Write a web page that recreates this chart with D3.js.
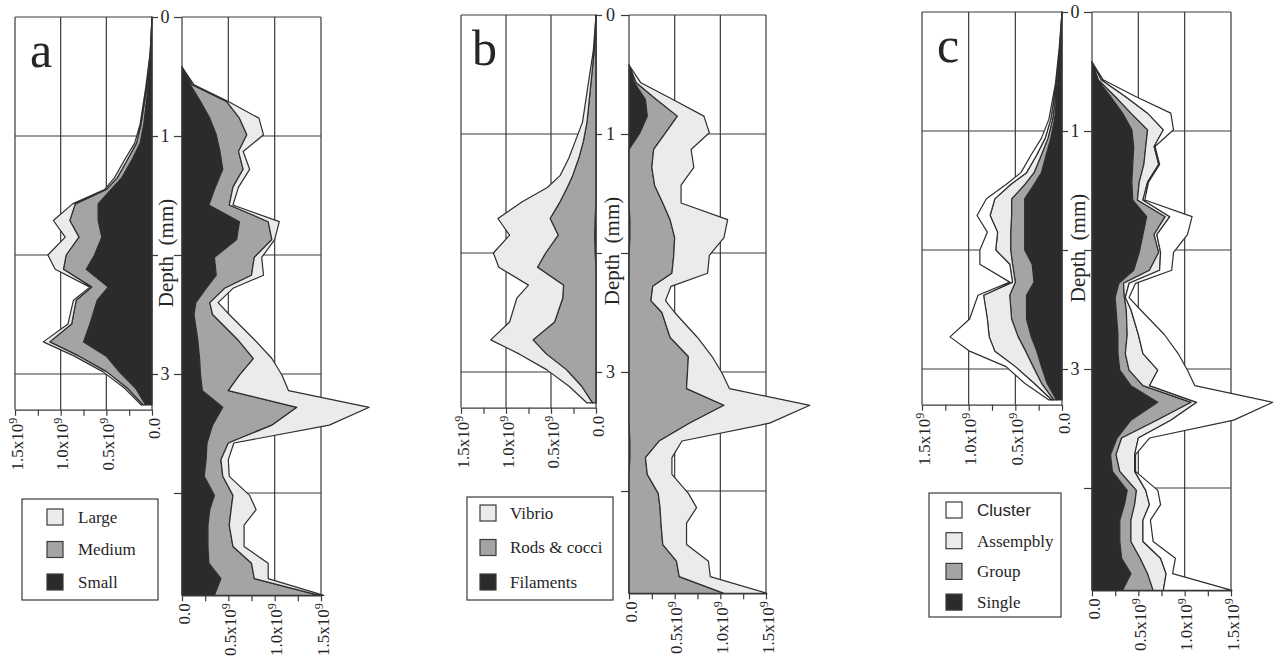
<!DOCTYPE html>
<html>
<head>
<meta charset="utf-8">
<script src="https://cdn.jsdelivr.net/npm/d3@7"></script>
<style>
  body { margin: 0; background: #fff; }
  svg text { font-family: "Liberation Serif", "DejaVu Serif", serif; fill: #262626; }
</style>
</head>
<body>
<svg id="fig" width="1275" height="663"></svg>
<script>
// Depth of each sample (mm); left profile and right profile
const depthLeft = [0, 0.3, 0.6, 0.9, 1.06, 1.2, 1.35, 1.45, 1.57, 1.71, 1.85, 2.0, 2.12, 2.27, 2.38, 2.58, 2.73, 2.85, 2.98, 3.12, 3.26];
const depthRight = [0.42, 0.57, 0.71, 0.85, 0.99, 1.13, 1.28, 1.43, 1.58, 1.72, 1.87, 2.02, 2.17, 2.28, 2.40, 2.50,
                    2.71, 2.87, 3.01, 3.14, 3.28, 3.43, 3.58, 3.72, 3.86, 4.02, 4.14, 4.27, 4.45, 4.59, 4.72, 4.86];

// Panel a: cell size (x10^9 cells)
const aLeftSmall  = [0, 0.015, 0.045, 0.09, 0.13, 0.22, 0.33, 0.45, 0.59, 0.59, 0.55, 0.63, 0.72, 0.48, 0.60, 0.68, 0.75, 0.50, 0.36, 0.18, 0.07];
const aLeftMedium = [0, 0.005, 0.015, 0.03, 0.04, 0.05, 0.05, 0.05, 0.25, 0.31, 0.25, 0.31, 0.25, 0.18, 0.23, 0.20, 0.37, 0.30, 0.14, 0.09, 0.03];
const aLeftLarge  = [0, 0, 0.01, 0.01, 0.02, 0.03, 0.03, 0.02, 0.03, 0.18, 0.15, 0.20, 0.09, 0.02, 0.03, 0.04, 0.07, 0.05, 0.04, 0.03, 0.02];
const aRightSmall  = [0, 0.09, 0.20, 0.30, 0.37, 0.41, 0.44, 0.36, 0.29, 0.62, 0.59, 0.35, 0.37, 0.26, 0.15, 0.13,
                      0.17, 0.19, 0.20, 0.22, 0.44, 0.33, 0.27, 0.26, 0.24, 0.35, 0.30, 0.28, 0.28, 0.29, 0.42, 0.35];
const aRightMedium = [0, 0.02, 0.28, 0.32, 0.33, 0.20, 0.22, 0.19, 0.22, 0.31, 0.38, 0.43, 0.38, 0.20, 0.15, 0.20,
                      0.43, 0.58, 0.42, 0.28, 0.80, 0.64, 0.23, 0.16, 0.20, 0.20, 0.23, 0.23, 0.27, 0.46, 0.36, 1.13];
const aRightLarge  = [0, 0.02, 0.02, 0.21, 0.18, 0.05, 0.07, 0.06, 0.04, 0.12, 0.03, 0.08, 0.13, 0.09, 0.09, 0.18,
                      0.18, 0.20, 0.46, 0.65, 0.78, 0.62, 0.06, 0.08, 0.07, 0.18, 0.27, 0.16, 0.12, 0.18, 0.15, 0.05];

// Panel b: morphotypes
const bLeftFilaments = [0, 0, 0, 0, 0, 0, 0, 0, 0, 0.01, 0.015, 0.01, 0, 0, 0, 0, 0, 0, 0, 0, 0];
const bLeftRods      = [0, 0.02, 0.06, 0.10, 0.14, 0.19, 0.26, 0.32, 0.40, 0.50, 0.405, 0.55, 0.65, 0.36, 0.37, 0.46, 0.70, 0.55, 0.33, 0.16, 0.04];
const bLeftVibrio    = [0, 0.01, 0.03, 0.05, 0.09, 0.11, 0.14, 0.22, 0.42, 0.58, 0.54, 0.58, 0.43, 0.39, 0.51, 0.50, 0.47, 0.30, 0.22, 0.14, 0.06];
const bRightFilaments = [0, 0.06, 0.18, 0.20, 0.12, 0, 0, 0, 0, 0.01, 0.01, 0, 0, 0, 0, 0,
                         0, 0, 0, 0, 0, 0, 0.01, 0.01, 0, 0, 0, 0, 0, 0, 0, 0];
const bRightRods      = [0, 0.02, 0.12, 0.33, 0.28, 0.27, 0.25, 0.28, 0.37, 0.44, 0.49, 0.49, 0.47, 0.26, 0.24, 0.36,
                         0.45, 0.65, 0.64, 0.63, 1.04, 0.66, 0.32, 0.17, 0.20, 0.32, 0.34, 0.35, 0.37, 0.52, 0.55, 1.04];
const bRightVibrio    = [0, 0.05, 0.18, 0.29, 0.48, 0.41, 0.46, 0.29, 0.20, 0.63, 0.54, 0.39, 0.39, 0.20, 0.16, 0.14,
                         0.30, 0.26, 0.38, 0.47, 0.94, 0.88, 0.25, 0.29, 0.27, 0.33, 0.40, 0.28, 0.26, 0.35, 0.34, 0.47];

// Panel c: aggregation
const cLeftSingle   = [0, 0.015, 0.04, 0.08, 0.12, 0.17, 0.22, 0.30, 0.40, 0.40, 0.40, 0.40, 0.32, 0.30, 0.38, 0.38, 0.33, 0.27, 0.22, 0.16, 0.06];
const cLeftGroup    = [0, 0.005, 0.01, 0.02, 0.03, 0.05, 0.08, 0.10, 0.14, 0.14, 0.15, 0.15, 0.21, 0.20, 0.18, 0.16, 0.14, 0.12, 0.09, 0.06, 0.03];
const cLeftAssembly = [0, 0.005, 0.01, 0.02, 0.03, 0.05, 0.08, 0.15, 0.18, 0.23, 0.14, 0.16, 0.03, 0.03, 0.28, 0.26, 0.31, 0.33, 0.19, 0.08, 0.02];
const cLeftCluster  = [0, 0.005, 0.01, 0.02, 0.04, 0.06, 0.06, 0.05, 0.09, 0.14, 0.11, 0.17, 0.32, 0.03, 0.06, 0.19, 0.42, 0.27, 0.10, 0.10, 0.03];
const cRightSingle   = [0, 0.06, 0.20, 0.33, 0.43, 0.45, 0.44, 0.43, 0.44, 0.59, 0.55, 0.51, 0.45, 0.29, 0.25, 0.26,
                        0.28, 0.28, 0.30, 0.42, 0.71, 0.42, 0.27, 0.20, 0.22, 0.38, 0.35, 0.30, 0.30, 0.32, 0.42, 0.33];
const cRightGroup    = [0, 0.01, 0.05, 0.09, 0.17, 0.13, 0.12, 0.08, 0.05, 0.20, 0.12, 0.21, 0.17, 0.05, 0.10, 0.11,
                        0.10, 0.08, 0.10, 0.13, 0.36, 0.28, 0.05, 0.06, 0.08, 0.10, 0.11, 0.12, 0.12, 0.20, 0.18, 0.33];
const cRightAssembly = [0, 0.03, 0.11, 0.18, 0.17, 0.09, 0.16, 0.09, 0.06, 0.05, 0.03, 0.02, 0.11, 0.06, 0.01, 0.05,
                        0.12, 0.19, 0.31, 0.07, 0.06, 0.15, 0.18, 0.20, 0.16, 0.10, 0.16, 0.13, 0.13, 0.22, 0.20, 0.11];
const cRightCluster  = [0, 0.02, 0.11, 0.25, 0.11, 0.01, 0.01, 0.01, 0.02, 0.24, 0.33, 0.14, 0.13, 0.07, 0.04, 0.10,
                        0.28, 0.38, 0.32, 0.49, 0.82, 0.68, 0.12, 0.01, 0.01, 0.13, 0.12, 0.08, 0.11, 0.16, 0.07, 0.74];

// Axis ticks
const xLabelValues = [0, 0.5, 1.0, 1.5];
const xLabelMain = ["0.0", "0.5x10", "1.0x10", "1.5x10"];
const xMinorTicks = [0, 0.25, 0.5, 0.75, 1.0, 1.25, 1.5];
const depthLabels = [0, 1, 3];

const DARK = "#2b2b2b", MID = "#a4a4a4", LIGHT = "#ebebeb", WHITE = "#ffffff";
const LINE = "#3a3a3a";
const PX_PER_MM = 119;

const panels = [
  { letter: "a", letterPos: [30, 67], top: 17, left: [15, 152], right: [182, 321], depthX: 166,
    keys: ["Small", "Medium", "Large"], colors: [DARK, MID, LIGHT],
    leftSeries: { Small: aLeftSmall, Medium: aLeftMedium, Large: aLeftLarge },
    rightSeries: { Small: aRightSmall, Medium: aRightMedium, Large: aRightLarge },
    legend: { x: 22, y: 499, w: 136, h: 101, row0: 18, step: 32.5, sw: 25, tx: 56 } },
  { letter: "b", letterPos: [472, 65], top: 15, left: [461, 596], right: [629, 766], depthX: 612,
    keys: ["Filaments", "Rods & cocci", "Vibrio"], colors: [DARK, MID, LIGHT],
    leftSeries: { "Filaments": bLeftFilaments, "Rods & cocci": bLeftRods, "Vibrio": bLeftVibrio },
    rightSeries: { "Filaments": bRightFilaments, "Rods & cocci": bRightRods, "Vibrio": bRightVibrio },
    legend: { x: 467, y: 497, w: 146, h: 103, row0: 16, step: 34.5, sw: 13, tx: 43 } },
  { letter: "c", letterPos: [937, 62], top: 12, left: [922, 1062], right: [1092, 1231], depthX: 1078,
    keys: ["Single", "Group", "Assempbly", "Cluster"], colors: [DARK, MID, LIGHT, WHITE],
    leftSeries: { Single: cLeftSingle, Group: cLeftGroup, Assempbly: cLeftAssembly, Cluster: cLeftCluster },
    rightSeries: { Single: cRightSingle, Group: cRightGroup, Assempbly: cRightAssembly, Cluster: cRightCluster },
    legend: { x: 929, y: 493, w: 132, h: 124, row0: 17, step: 30.7, sw: 17, tx: 48 } }
];

function toRows(depths, series) {
  return depths.map((d, i) => {
    const r = { depth: d };
    Object.keys(series).forEach(k => { r[k] = series[k][i]; });
    return r;
  });
}

const svg = d3.select("#fig");

function drawProfile(g, p, x, y, depths, series, maxDepth, gridDepths, side) {
  const x0 = x(0), x15 = x(1.5), yTop = y(0), yBot = y(maxDepth);

  // grid
  g.selectAll(null).data([0.5, 1.0, 1.5]).join("line")
    .attr("x1", d => x(d)).attr("x2", d => x(d)).attr("y1", yTop).attr("y2", yBot)
    .attr("stroke", LINE).attr("stroke-width", 1.2);
  g.selectAll(null).data(gridDepths).join("line")
    .attr("x1", x0).attr("x2", x15).attr("y1", d => y(d)).attr("y2", d => y(d))
    .attr("stroke", LINE).attr("stroke-width", 1.2);
  g.append("line").attr("x1", x0).attr("x2", x15).attr("y1", yTop).attr("y2", yTop)
    .attr("stroke", LINE).attr("stroke-width", 1.2);

  // stacked areas
  const layers = d3.stack().keys(p.keys)(toRows(depths, series));
  const area = d3.area()
    .y(d => y(d.data.depth))
    .x0(d => x(d[0]))
    .x1(d => x(d[1]));
  g.selectAll(null).data(layers).join("path")
    .attr("d", area)
    .attr("fill", (d, i) => p.colors[i])
    .attr("stroke", "#2e2e2e")
    .attr("stroke-width", 1.2)
    .attr("stroke-linejoin", "round");

  // depth axis
  const depthAxis = side === "left"
    ? d3.axisRight(y).tickValues([0, 1, 2, 3]).tickSize(6)
    : d3.axisLeft(y).tickValues([0, 1, 2, 3, 4]).tickSize(8);
  const da = g.append("g").attr("transform", `translate(${x0},0)`)
    .call(depthAxis.tickFormat("").tickSizeOuter(0));
  da.select(".domain").attr("d", `M0,${yTop}V${yBot}`);
  da.selectAll("path, line").attr("stroke", LINE).attr("stroke-width", 1.2);

  // bottom axis
  const ba = g.append("g").attr("transform", `translate(0,${yBot})`)
    .call(d3.axisBottom(x).tickValues(xMinorTicks).tickSize(6).tickSizeOuter(0).tickFormat(""));
  ba.selectAll("path, line").attr("stroke", LINE).attr("stroke-width", 1.2);

  const lab = g.selectAll(null).data(xLabelValues).join("text")
    .attr("transform", d => `translate(${x(d) + 1},${yBot + 8}) rotate(-90)`)
    .attr("text-anchor", "end")
    .attr("dy", "0.4em")
    .style("font-size", "17px");
  lab.append("tspan").text((d, i) => xLabelMain[i]);
  lab.filter(d => d > 0).append("tspan")
    .attr("dy", "-0.5em").style("font-size", "12px").text("9");
}

panels.forEach(p => {
  const g = svg.append("g");
  const y = d3.scaleLinear().domain([0, 1]).range([p.top, p.top + PX_PER_MM]);
  const xL = d3.scaleLinear().domain([0, 1.5]).range([p.left[1], p.left[0]]);
  const xR = d3.scaleLinear().domain([0, 1.5]).range([p.right[0], p.right[1]]);

  drawProfile(g.append("g"), p, xL, y, depthLeft, p.leftSeries, 3.3, [1, 2, 3], "left");
  drawProfile(g.append("g"), p, xR, y, depthRight, p.rightSeries, depthRight[depthRight.length - 1], [1, 2, 3, 4], "right");

  // depth tick labels
  const midX = (p.left[1] + p.right[0]) / 2 - 2;
  g.selectAll(null).data(depthLabels).join("text")
    .attr("x", midX).attr("y", d => y(d)).attr("dy", "0.35em")
    .attr("text-anchor", "middle").style("font-size", "18px")
    .text(d => d);

  g.append("text")
    .attr("transform", `translate(${p.depthX},${p.top + 236}) rotate(-90)`)
    .attr("text-anchor", "middle").attr("dy", "0.35em")
    .style("font-size", "21px")
    .text("Depth\u00a0\u00a0(mm)");

  // panel letter
  g.append("text").attr("x", p.letterPos[0]).attr("y", p.letterPos[1])
    .style("font-size", "50px").text(p.letter);

  // legend
  const L = p.legend;
  const lg = g.append("g").attr("transform", `translate(${L.x},${L.y})`);
  lg.append("rect").attr("width", L.w).attr("height", L.h)
    .attr("fill", "#fff").attr("stroke", LINE).attr("stroke-width", 1.2);
  const items = p.keys.map((k, i) => ({ key: k, color: p.colors[i] })).reverse();
  const row = lg.selectAll(null).data(items).join("g")
    .attr("transform", (d, i) => `translate(0,${L.row0 + i * L.step})`);
  row.append("rect").attr("x", L.sw).attr("y", -8).attr("width", 16).attr("height", 16)
    .attr("fill", d => d.color).attr("stroke", LINE).attr("stroke-width", 1.2);
  row.append("text").attr("x", L.tx).attr("dy", "0.35em")
    .style("font-size", "17px")
    .style("font-family", d => d.key === "Cluster" ? "'Liberation Sans', Arial, sans-serif" : null)
    .text(d => d.key);
});
</script>
</body>
</html>
